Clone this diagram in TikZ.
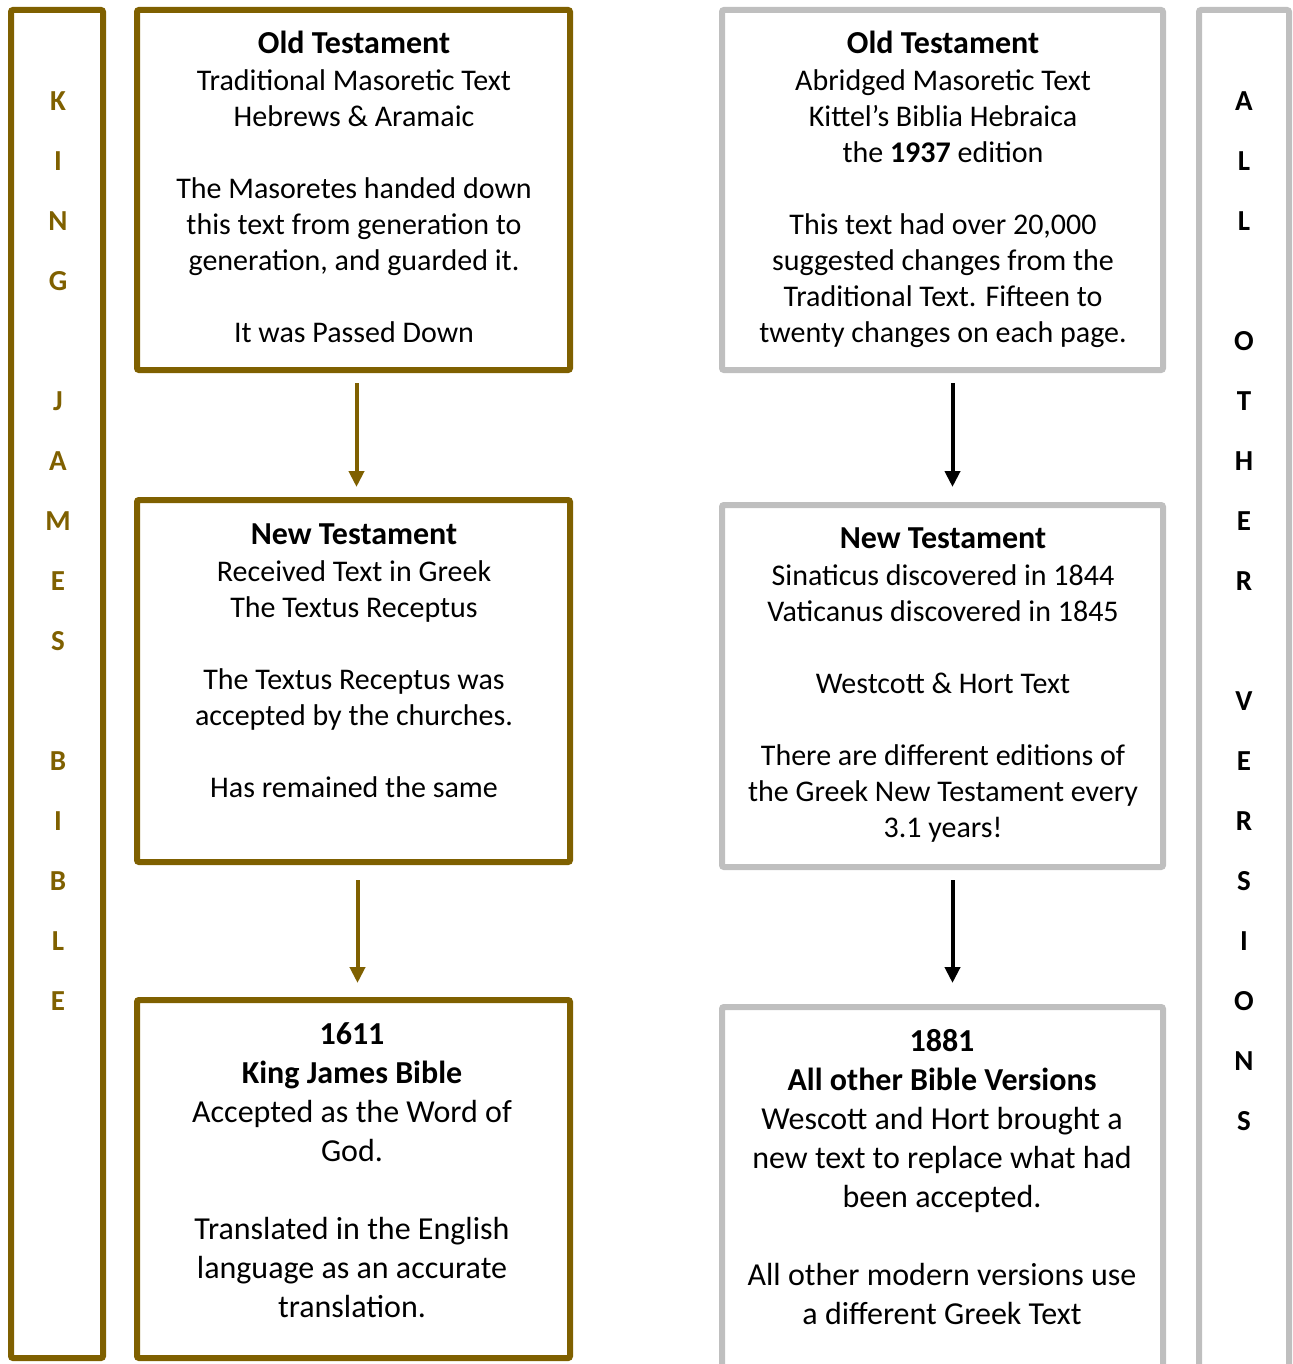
\documentclass[tikz,border=0pt]{standalone}
\usepackage{fontspec}
\setmainfont{Carlito}
\usepackage{xcolor}
\usetikzlibrary{arrows.meta, positioning, calc}

\definecolor{kjvbrown}{HTML}{7F6000}
\definecolor{othergray}{HTML}{BFBFBF}

\newcommand{\boxtitle}[1]{{\fontsize{32}{36}\selectfont\bfseries #1}}

\begin{document}
\begin{tikzpicture}[x=1pt, y=-1pt,
    kjvbox/.style={draw=kjvbrown, line width=6pt, rounded corners=2pt, inner sep=0pt},
    otherbox/.style={draw=othergray, line width=6pt, rounded corners=2pt, inner sep=0pt},
    boxtext/.style={anchor=north, align=center, inner sep=0pt, font=\fontsize{30}{36}\selectfont},
    bigtext/.style={anchor=north, align=center, inner sep=0pt, font=\fontsize{32}{39}\selectfont},
    kjvarrow/.style={draw=kjvbrown, line width=4pt, -{Triangle[width=15pt,length=16pt]}},
    otherarrow/.style={draw=black, line width=4pt, -{Triangle[width=15pt,length=16pt]}}]
\useasboundingbox (0,0) rectangle (1292,1364);
\clip (0,0) rectangle (1292,1364);

% Side bars
\node[kjvbox, minimum width=92pt, minimum height=1348pt] (kjvbar) at (57,684) {};
\node[otherbox, minimum width=90pt, minimum height=1390pt] (otherbar) at (1244,705) {};

\foreach \l [count=\i] in {K,I,N,G,{},J,A,M,E,S,{},B,I,B,L,E}
    \node[font=\fontsize{29}{36}\selectfont\bfseries, text=kjvbrown] (kj\i) at (58,{101+60*(\i-1)}) {\l};
\foreach \l [count=\i] in {A,L,L,{},O,T,H,E,R,{},V,E,R,S,I,O,N,S}
    \node[font=\fontsize{29}{36}\selectfont\bfseries] (av\i) at (1244,{101+60*(\i-1)}) {\l};

% Left column
\node[kjvbox, minimum width=433pt, minimum height=360pt] (lt) at (353.5,190) {};
\node[kjvbox, minimum width=433pt, minimum height=362pt] (lm) at (353.5,681) {};
\node[kjvbox, minimum width=433pt, minimum height=358pt] (lb) at (353.5,1179) {};

\node[boxtext] (ltxt) at (354,31) {\boxtitle{Old Testament}\\[1pt]
    Traditional Masoretic Text\\ Hebrews \& Aramaic\\[36pt]
    The Masoretes handed down\\ this text from generation to\\ generation, and guarded it.\\[36pt]
    It was Passed Down};
\node[boxtext] (lmtxt) at (354,524) {\boxtitle{New Testament}\\[1pt]
    Received Text in Greek\\ The Textus Receptus\\[36pt]
    The Textus Receptus was\\ accepted by the churches.\\[36pt]
    Has remained the same};
\node[bigtext] (lbtxt) at (352,1022) {\textbf{1611}\\ \textbf{King James Bible}\\
    Accepted as the Word of\\ God.\\[39pt]
    Translated in the English\\ language as an accurate\\ translation.};

% Right column
\node[otherbox, minimum width=441pt, minimum height=360pt] (rt) at (942.5,190) {};
\node[otherbox, minimum width=441pt, minimum height=362pt] (rm) at (942.5,686) {};
\node[otherbox, minimum width=441pt, minimum height=393pt] (rb) at (942.5,1203.5) {};

\node[boxtext] (rttxt) at (943,31) {\boxtitle{Old Testament}\\[1pt]
    Abridged Masoretic Text\\ Kittel’s Biblia Hebraica\\ the \textbf{1937} edition\\[36pt]
    This text had over 20,000\\ suggested changes from the\\ Traditional Text. Fifteen to\\ twenty changes on each page.};
\node[boxtext] (rmtxt) at (943,528) {\boxtitle{New Testament}\\[1pt]
    Sinaticus discovered in 1844\\ Vaticanus discovered in 1845\\[36pt]
    Westcott \& Hort Text\\[36pt]
    There are different editions of\\ the Greek New Testament every\\ 3.1 years!};
\node[bigtext] (rbtxt) at (942,1029) {\textbf{1881}\\ \textbf{All other Bible Versions}\\
    Wescott and Hort brought a\\ new text to replace what had\\ been accepted.\\[39pt]
    All other modern versions use\\ a different Greek Text};

% Arrows
\draw[kjvarrow, shorten <=10pt, shorten >=10pt] ([xshift=3pt]lt.south) -- ([xshift=3pt]lm.north);
\draw[kjvarrow, shorten <=15pt, shorten >=14pt] ([xshift=4pt]lm.south) -- ([xshift=4pt]lb.north);
\draw[otherarrow, shorten <=10pt, shorten >=15pt] ([xshift=10pt]rt.south) -- ([xshift=10pt]rm.north);
\draw[otherarrow, shorten <=10pt, shorten >=21pt] ([xshift=10pt]rm.south) -- ([xshift=10pt]rb.north);
\end{tikzpicture}
\end{document}
